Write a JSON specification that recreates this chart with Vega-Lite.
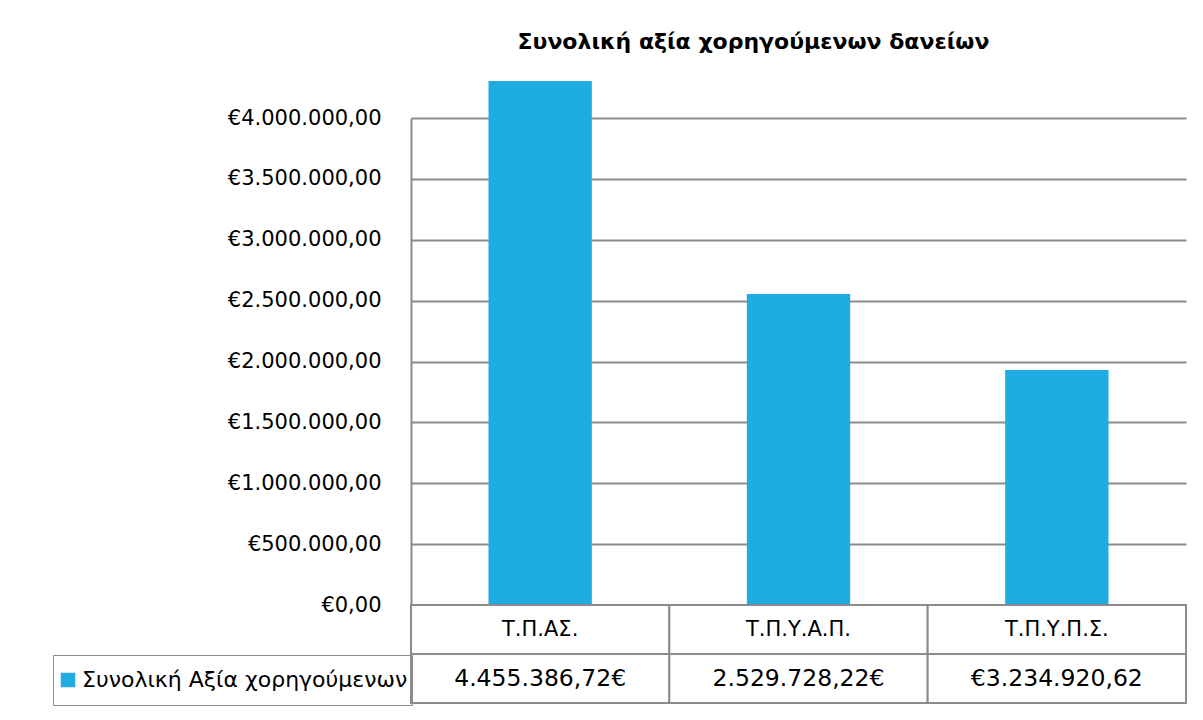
{
  "$schema": "https://vega.github.io/schema/vega-lite/v6.json",
  "background": "white",
  "padding": {"left": 52, "top": 30, "right": 18, "bottom": 14},
  "bounds": "flush",
  "title": {
    "text": "Συνολική αξία χορηγούμενων δανείων",
    "font": "DejaVu Sans",
    "fontSize": 22,
    "fontWeight": "bold",
    "color": "#000000",
    "dx": 465,
    "offset": 27
  },
  "config": {
    "locale": {
      "number": {"decimal": ",", "thousands": ".", "grouping": [3], "currency": ["€", ""]}
    },
    "view": {"stroke": null},
    "font": "DejaVu Sans",
    "concat": {"spacing": 0}
  },
  "data": {
    "values": [
      {"cat": "Τ.Π.ΑΣ.", "amount": 4304000, "label": "4.455.386,72€", "series": "Συνολική Αξία χορηγούμενων"},
      {"cat": "Τ.Π.Υ.Α.Π.", "amount": 2554000, "label": "2.529.728,22€", "series": "Συνολική Αξία χορηγούμενων"},
      {"cat": "Τ.Π.Υ.Π.Σ.", "amount": 1930000, "label": "€3.234.920,62", "series": "Συνολική Αξία χορηγούμενων"}
    ]
  },
  "spacing": 0,
  "vconcat": [
    {
      "width": 775,
      "height": 487,
      "mark": {"type": "bar", "color": "#1EACE3", "width": {"band": 0.4}},
      "encoding": {
        "x": {
          "field": "cat",
          "type": "nominal",
          "sort": null,
          "scale": {"paddingInner": 0, "paddingOuter": 0},
          "axis": null
        },
        "y": {
          "field": "amount",
          "type": "quantitative",
          "scale": {"domain": [0, 4000000], "nice": false},
          "axis": {
            "title": null,
            "values": [0, 500000, 1000000, 1500000, 2000000, 2500000, 3000000, 3500000, 4000000],
            "format": "$,.2f",
            "labelFontSize": 21,
            "labelColor": "#000000",
            "labelPadding": 30,
            "ticks": false,
            "grid": true,
            "gridColor": "#8c8c8c",
            "gridWidth": 2,
            "domainColor": "#8c8c8c",
            "domainWidth": 2
          }
        }
      }
    },
    {
      "width": 775,
      "height": 98,
      "transform": [{"fold": ["cat", "label"], "as": ["row", "text"]}],
      "encoding": {
        "x": {
          "field": "cat",
          "type": "nominal",
          "sort": null,
          "scale": {"paddingInner": 0, "paddingOuter": 0},
          "axis": null
        },
        "y": {
          "field": "row",
          "type": "nominal",
          "sort": ["cat", "label"],
          "scale": {"paddingInner": 0, "paddingOuter": 0},
          "axis": null
        }
      },
      "layer": [
        {
          "mark": {"type": "rect", "fill": "white", "stroke": "#8c8c8c", "strokeWidth": 2}
        },
        {
          "mark": {"type": "text", "color": "#000000", "font": "DejaVu Sans"},
          "encoding": {
            "text": {"field": "text"},
            "size": {"condition": {"test": "datum.row === 'cat'", "value": 21}, "value": 23.5}
          }
        },
        {
          "mark": {"type": "point", "shape": "square", "filled": true, "opacity": 0},
          "encoding": {
            "color": {
              "field": "series",
              "type": "nominal",
              "scale": {"range": ["#1EACE3"]},
              "legend": {
                "orient": "none",
                "legendX": -358,
                "legendY": 537,
                "title": null,
                "strokeColor": "#8c8c8c",
                "padding": 4,
                "clipHeight": 42,
                "symbolType": "square",
                "symbolSize": 210,
                "symbolOpacity": 1,
                "symbolStrokeWidth": 0,
                "labelFontSize": 22,
                "labelColor": "#000000",
                "labelLimit": 500,
                "labelOffset": 3
              }
            }
          }
        }
      ]
    }
  ]
}
